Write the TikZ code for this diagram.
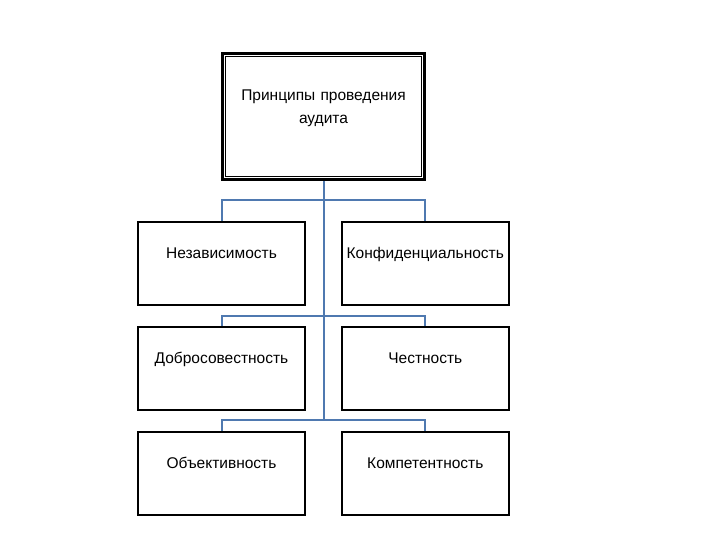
\documentclass[tikz,border=0pt]{standalone}
\usepackage{fontspec}
\setmainfont{Liberation Sans}
\usetikzlibrary{
    calc,
    positioning
}
\definecolor{linkblue}{RGB}{79,121,176}

\begin{document}
\begin{tikzpicture}[
    x=1pt,
    y=-1pt,
    node distance=20pt and 35pt,
    root_style/.style={
        draw=black,
        line width=3pt,
        text width=202pt,
        align=center,
        inner sep=0pt,
        text height=47.5pt,
        text depth=78.5pt,
        font=\fontsize{15.5}{23}\selectfont
    },
    item_style/.style={
        draw=black,
        line width=1.8pt,
        minimum width=167pt,
        inner xsep=0pt,
        inner ysep=0pt,
        text height=36.5pt,
        text depth=46.5pt,
        font=\fontsize{15.5}{23}\selectfont
    },
    link_style/.style={
        draw=linkblue,
        line width=2pt
    }
]
\useasboundingbox (0,0) rectangle (720,540);

% --- Nodes ---
\node[root_style] (Root) at (323.5,116.5) {Принципы проведения\\аудита};
\draw[line width=1.5pt] ([shift={(4.5pt,-4.5pt)}]Root.north west) rectangle ([shift={(-4.5pt,4.5pt)}]Root.south east);

\node[item_style] (Indep) at (221.5,263.5) {Независимость};
\node[item_style, right=of Indep] (Conf) {Конфиденциальность};
\node[item_style, below=of Indep] (Integ) {Добросовестность};
\node[item_style, below=of Conf] (Honest) {Честность};
\node[item_style, below=of Integ] (Object) {Объективность};
\node[item_style, below=of Honest] (Compet) {Компетентность};

% --- Buses ---
\coordinate (Bus1) at ($(Indep.north)+(0,-21)$);
\coordinate (Bus2) at ($(Integ.north)+(0,-10)$);
\coordinate (Bus3) at ($(Object.north)+(0,-10.5)$);

% --- Edges ---
\draw[link_style] (Root.south) -- (Root.south |- Bus3);
\draw[link_style] (Indep.north) -- (Bus1) -| (Conf.north);
\draw[link_style] (Integ.north) -- (Bus2) -| (Honest.north);
\draw[link_style] (Object.north) -- (Bus3) -| (Compet.north);

\end{tikzpicture}
\end{document}
